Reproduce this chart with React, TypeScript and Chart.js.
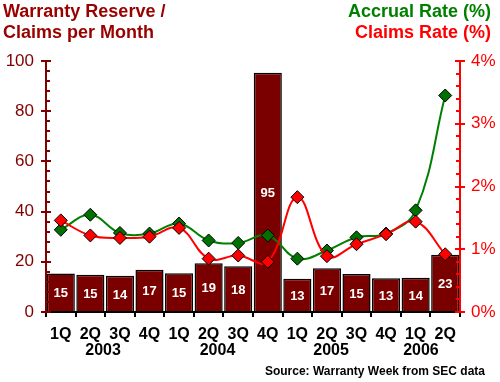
import React, { useEffect, useRef } from 'react';
import { Chart, registerables } from 'chart.js';

Chart.register(...registerables);

const quarters = ['1Q', '2Q', '3Q', '4Q', '1Q', '2Q', '3Q', '4Q', '1Q', '2Q', '3Q', '4Q', '1Q', '2Q'];
const years = ['2003', '2004', '2005', '2006'];
const reserveMonths = [15.3, 14.8, 14.4, 16.8, 15.4, 19.4, 18.2, 95.3, 13.2, 17.4, 15.1, 13.4, 13.6, 22.8];
const accrualRate = [1.31, 1.55, 1.26, 1.25, 1.41, 1.14, 1.1, 1.22, 0.85, 0.98, 1.19, 1.25, 1.62, 3.45];
const claimsRate = [1.46, 1.22, 1.18, 1.2, 1.34, 0.85, 0.9, 0.8, 1.83, 0.89, 1.08, 1.24, 1.44, 0.92];
const leftTicks = [0, 20, 40, 60, 80, 100];
const rightTicks = [0, 1, 2, 3, 4];

const titleLeft = ['Warranty Reserve /', 'Claims per Month'];
const titleAccrual = 'Accrual Rate (%)';
const titleClaims = 'Claims Rate (%)';
const sourceText = 'Source: Warranty Week from SEC data';

// fractional category positions of the year captions (layout)
const yearAt = [1.43, 5.3, 9.14, 12.18];

const FONT = 'Arial, "Liberation Sans", sans-serif';

const barLabelPlugin = {
  id: 'barLabels',
  afterDatasetDraw(chart: any, args: any) {
    if (args.index !== 0) return;
    const ctx = chart.ctx;
    const meta = chart.getDatasetMeta(0);
    ctx.save();
    ctx.fillStyle = '#ffffff';
    ctx.font = `bold 13px ${FONT}`;
    ctx.textAlign = 'center';
    ctx.textBaseline = 'middle';
    meta.data.forEach((bar: any, i: number) => {
      const p = bar.getProps(['x', 'y', 'base'], true);
      ctx.fillText(String(Math.round(reserveMonths[i])), p.x, (p.y + p.base) / 2 + 1);
    });
    ctx.restore();
  },
};

const decorPlugin = {
  id: 'decor',
  afterDatasetsDraw(chart: any) {
    const ctx = chart.ctx;
    const { left, right, top, bottom } = chart.chartArea;
    const xs = chart.scales.x;
    const ys = chart.scales.y;
    const yr = chart.scales.y1;
    ctx.save();
    ctx.lineWidth = 2;
    ctx.lineCap = 'butt';

    // x axis
    ctx.strokeStyle = '#000000';
    ctx.beginPath();
    ctx.moveTo(left, bottom);
    ctx.lineTo(right, bottom);
    const n = quarters.length;
    for (let i = 0; i <= n; i++) {
      const px = Math.round(left + (i * (right - left)) / n);
      ctx.moveTo(px, bottom);
      ctx.lineTo(px, bottom + 5);
    }
    ctx.stroke();

    // left axis
    ctx.strokeStyle = '#800000';
    ctx.beginPath();
    ctx.moveTo(left, top);
    ctx.lineTo(left, bottom);
    for (let v = 0; v <= 100; v += 4) {
      const py = Math.round(ys.getPixelForValue(v));
      if (leftTicks.includes(v)) {
        ctx.moveTo(left - 5, py);
        ctx.lineTo(left + 5, py);
      } else {
        ctx.moveTo(left, py);
        ctx.lineTo(left + 4, py);
      }
    }
    ctx.stroke();

    // right axis
    ctx.strokeStyle = '#ff0000';
    ctx.beginPath();
    ctx.moveTo(right, top);
    ctx.lineTo(right, bottom);
    for (let k = 0; k <= 20; k++) {
      const v = k / 5;
      const py = Math.round(yr.getPixelForValue(v));
      if (k % 5 === 0) {
        ctx.moveTo(right - 5, py);
        ctx.lineTo(right + 5, py);
      } else {
        ctx.moveTo(right - 4, py);
        ctx.lineTo(right, py);
      }
    }
    ctx.stroke();

    // year captions
    ctx.fillStyle = '#000000';
    ctx.font = `bold 16px ${FONT}`;
    ctx.textAlign = 'center';
    ctx.textBaseline = 'middle';
    const step = xs.getPixelForValue(1) - xs.getPixelForValue(0);
    years.forEach((yy, i) => {
      const px = xs.getPixelForValue(0) + yearAt[i] * step;
      ctx.fillText(yy, px, 351);
    });

    // source
    ctx.font = `bold 12px ${FONT}`;
    ctx.textAlign = 'right';
    ctx.fillText(sourceText, 485, 372);

    // titles
    ctx.textBaseline = 'alphabetic';
    ctx.font = `bold 18px ${FONT}`;
    ctx.textAlign = 'left';
    ctx.fillStyle = '#990000';
    ctx.fillText(titleLeft[0], 3, 17);
    ctx.fillText(titleLeft[1], 3, 38);
    ctx.textAlign = 'right';
    ctx.fillStyle = '#008000';
    ctx.fillText(titleAccrual, 491, 17);
    ctx.fillStyle = '#ff0000';
    ctx.fillText(titleClaims, 491, 38);

    ctx.restore();
  },
};

export default function App() {
  const ref = useRef<HTMLCanvasElement | null>(null);

  useEffect(() => {
    document.body.style.margin = '0';
    const canvas = ref.current;
    if (!canvas) return;
    const chart = new Chart(canvas, {
      type: 'bar',
      data: {
        labels: quarters,
        datasets: [
          {
            type: 'bar',
            label: 'Warranty Reserve / Claims per Month',
            data: reserveMonths,
            yAxisID: 'y',
            backgroundColor: '#7a0000',
            borderColor: '#000000',
            borderWidth: 1.5,
            barPercentage: 0.95,
            categoryPercentage: 1,
            order: 3,
          } as any,
          {
            type: 'line',
            label: 'Accrual Rate (%)',
            data: accrualRate,
            yAxisID: 'y1',
            borderColor: '#008000',
            backgroundColor: '#008000',
            borderWidth: 2,
            tension: 0.4,
            pointStyle: 'rectRot',
            pointRadius: 6.5,
            pointBackgroundColor: '#007000',
            pointBorderColor: '#000000',
            pointBorderWidth: 1,
            order: 2,
          } as any,
          {
            type: 'line',
            label: 'Claims Rate (%)',
            data: claimsRate,
            yAxisID: 'y1',
            borderColor: '#ff0000',
            backgroundColor: '#ff0000',
            borderWidth: 2,
            tension: 0.4,
            pointStyle: 'rectRot',
            pointRadius: 6.5,
            pointBackgroundColor: '#ff0000',
            pointBorderColor: '#000000',
            pointBorderWidth: 1,
            order: 1,
          } as any,
        ],
      },
      options: {
        responsive: false,
        animation: false,
        devicePixelRatio: 1,
        layout: { padding: { top: 61, left: 0, right: 0, bottom: 0 } },
        plugins: {
          legend: { display: false },
          tooltip: { enabled: false },
        },
        scales: {
          x: {
            grid: { display: false, drawTicks: false },
            border: { display: false },
            ticks: {
              color: '#000000',
              font: { family: FONT, size: 16, weight: 'bold' },
              padding: 13,
              autoSkip: false,
              maxRotation: 0,
            },
            afterFit: (s: any) => {
              s.height = 70;
            },
          },
          y: {
            position: 'left',
            min: 0,
            max: 100,
            grid: { display: false, drawTicks: false },
            border: { display: false },
            ticks: {
              stepSize: 20,
              color: '#800000',
              font: { family: FONT, size: 17 },
              padding: 12,
            },
            afterFit: (s: any) => {
              s.width = 46;
            },
          },
          y1: {
            position: 'right',
            min: 0,
            max: 4,
            grid: { display: false, drawTicks: false },
            border: { display: false },
            ticks: {
              stepSize: 1,
              color: '#ff0000',
              font: { family: FONT, size: 17 },
              padding: 11,
              callback: (v: any) => (rightTicks.includes(Number(v)) ? `${v}%` : ''),
            },
            afterFit: (s: any) => {
              s.width = 40;
            },
          },
        },
      } as any,
      plugins: [barLabelPlugin, decorPlugin],
    });
    return () => chart.destroy();
  }, []);

  return (
    <div style={{ width: 500, height: 382, background: '#ffffff' }}>
      <canvas ref={ref} width={500} height={382} style={{ display: 'block' }} />
    </div>
  );
}
